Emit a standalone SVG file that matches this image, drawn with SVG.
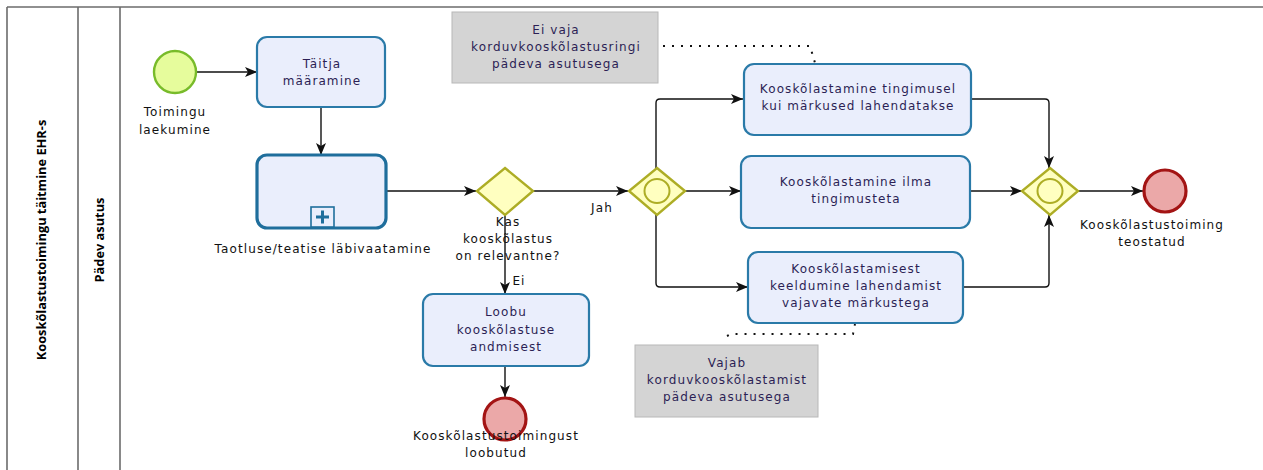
<svg xmlns="http://www.w3.org/2000/svg" width="1263" height="470" viewBox="0 0 1263 470">
<style>
  .frame { stroke: #6b6b6b; stroke-width: 1.6; fill: none; }
  .pool { font-family: "Open Sans", "DejaVu Sans", sans-serif; font-weight: bold; font-size: 12.8px; fill: #000; }
  .task { fill: #eaeefc; stroke: #2a7aa8; stroke-width: 2.2; }
  .sub { fill: #eaeefc; stroke: #1f6e9c; stroke-width: 3.2; }
  .tt { font-family: "DejaVu Sans", "Verdana", sans-serif; font-size: 12px; letter-spacing: 1.1px; fill: #2c1f55; text-anchor: middle; }
  .lbl { font-family: "DejaVu Sans", "Verdana", sans-serif; font-size: 12px; letter-spacing: 1.1px; fill: #111; text-anchor: middle; }
  .gw { fill: #ffffc0; stroke: #adad25; stroke-width: 2.4; }
  .start { fill: #e6fc9c; stroke: #78bb2a; stroke-width: 2.4; }
  .end { fill: #eba8a8; stroke: #a31414; stroke-width: 3.2; }
  .flow { fill: none; stroke: #111; stroke-width: 1.4; marker-end: url(#arrow); }
  .note { fill: #d4d4d4; stroke: #b8b8b8; stroke-width: 1; }
  .assoc { fill: none; stroke: #111; stroke-width: 2; stroke-dasharray: 2 7; }
</style>
<defs>
  <marker id="arrow" viewBox="0 0 12 10" refX="12" refY="5" markerWidth="12" markerHeight="10" markerUnits="userSpaceOnUse" orient="auto">
    <path d="M0,0 L12,5 L0,10 L3,5 Z" fill="#111"/>
  </marker>
</defs>

<rect width="1263" height="470" fill="#fff"/>

<!-- pool and lane frame -->
<g id="pool">
  <line class="frame" x1="7" y1="7" x2="1263" y2="7"/>
  <line class="frame" x1="7" y1="7" x2="7" y2="470"/>
  <line class="frame" x1="78" y1="7" x2="78" y2="470"/>
  <line class="frame" x1="120" y1="7" x2="120" y2="470"/>
  <text class="pool" transform="translate(46,240) rotate(-90)" text-anchor="middle">Kooskõlastustoimingu täitmine EHR-s</text>
  <text class="pool" transform="translate(104,240) rotate(-90)" text-anchor="middle">Pädev asutus</text>
</g>

<!-- connectors -->
<g id="connectors">
  <path class="flow" d="M197,72 H257"/>
  <path class="flow" d="M321,107 V155"/>
  <path class="flow" d="M386,191 H476"/>
  <path class="flow" d="M505,215 V294"/>
  <path class="flow" d="M533,191 H628"/>
  <path class="flow" d="M656,168 V103 Q656,99 660,99 H743"/>
  <path class="flow" d="M685,191 H741"/>
  <path class="flow" d="M656,215 V283 Q656,287 660,287 H748"/>
  <path class="flow" d="M972,99 H1045 Q1049,99 1049,103 V168"/>
  <path class="flow" d="M970,191 H1022"/>
  <path class="flow" d="M963,287 H1045 Q1049,287 1049,283 V215"/>
  <path class="flow" d="M1078,191 H1143"/>
  <path class="flow" d="M505,366 V397"/>
  <path class="assoc" d="M663,46 H810 L815,63"/>
  <path class="assoc" d="M727,336 L731,334 H853 L855,324"/>
  <text class="lbl" x="602" y="212">Jah</text>
  <text class="lbl" x="519" y="285">Ei</text>
</g>

<g id="start">
  <circle class="start" cx="175" cy="72" r="21"/>
  <text class="lbl" x="175" y="116">Toimingu</text>
  <text class="lbl" x="175" y="134">laekumine</text>
</g>

<g id="task-taitja">
  <rect class="task" x="257" y="37" width="128" height="70" rx="10"/>
  <text class="tt" x="322" y="68">Täitja</text>
  <text class="tt" x="322" y="85">määramine</text>
</g>

<g id="sub-labivaatamine">
  <rect class="sub" x="257" y="155" width="129" height="73" rx="10"/>
  <rect x="311" y="207" width="23" height="20" fill="#eaeefc" stroke="#1f6e9c" stroke-width="1.6"/>
  <path d="M322.5,210.5 V223.5 M316,217 H329" stroke="#1f6e9c" stroke-width="3"/>
  <text class="lbl" x="323" y="253">Taotluse/teatise läbivaatamine</text>
</g>

<g id="gw-relevantne">
  <polygon class="gw" points="505,168 533,191 505,215 477,191"/>
  <text class="lbl" x="508" y="226">Kas</text>
  <text class="lbl" x="508" y="243">kooskõlastus</text>
  <text class="lbl" x="508" y="260">on relevantne?</text>
</g>

<g id="gw-split">
  <polygon class="gw" points="657,168 685,191 657,215 629,191"/>
  <ellipse cx="657" cy="191" rx="12.5" ry="12" fill="none" stroke="#adad25" stroke-width="2"/>
</g>

<g id="task-tingimusel">
  <rect class="task" x="744" y="64" width="227" height="71" rx="10"/>
  <text class="tt" x="858" y="93">Kooskõlastamine tingimusel</text>
  <text class="tt" x="858" y="110">kui märkused lahendatakse</text>
</g>

<g id="task-ilma">
  <rect class="task" x="741" y="156" width="229" height="72" rx="10"/>
  <text class="tt" x="856" y="186">Kooskõlastamine ilma</text>
  <text class="tt" x="856" y="203">tingimusteta</text>
</g>

<g id="task-keeldumine">
  <rect class="task" x="748" y="252" width="215" height="71" rx="10"/>
  <text class="tt" x="856" y="273">Kooskõlastamisest</text>
  <text class="tt" x="856" y="290">keeldumine lahendamist</text>
  <text class="tt" x="856" y="307">vajavate märkustega</text>
</g>

<g id="gw-join">
  <polygon class="gw" points="1050,168 1078,191 1050,215 1022,191"/>
  <ellipse cx="1050" cy="191" rx="12.5" ry="12" fill="none" stroke="#adad25" stroke-width="2"/>
</g>

<g id="end-teostatud">
  <circle class="end" cx="1165" cy="191" r="21"/>
  <text class="lbl" x="1152" y="229">Kooskõlastustoiming</text>
  <text class="lbl" x="1152" y="246">teostatud</text>
</g>

<g id="task-loobu">
  <rect class="task" x="423" y="294" width="166" height="72" rx="10"/>
  <text class="tt" x="506" y="316">Loobu</text>
  <text class="tt" x="506" y="334">kooskõlastuse</text>
  <text class="tt" x="506" y="351">andmisest</text>
</g>

<g id="end-loobutud">
  <circle class="end" cx="505" cy="419" r="21"/>
  <text class="lbl" x="496" y="440">Kooskõlastustoimingust</text>
  <text class="lbl" x="496" y="457">loobutud</text>
</g>

<g id="note-ei-vaja">
  <rect class="note" x="452" y="12" width="206" height="71"/>
  <text class="tt" x="556" y="34">Ei vaja</text>
  <text class="tt" x="556" y="51">korduvkooskõlastusringi</text>
  <text class="tt" x="556" y="68">pädeva asutusega</text>
</g>

<g id="note-vajab">
  <rect class="note" x="635" y="345" width="183" height="72"/>
  <text class="tt" x="727" y="367">Vajab</text>
  <text class="tt" x="727" y="384">korduvkooskõlastamist</text>
  <text class="tt" x="727" y="401">pädeva asutusega</text>
</g>
</svg>
